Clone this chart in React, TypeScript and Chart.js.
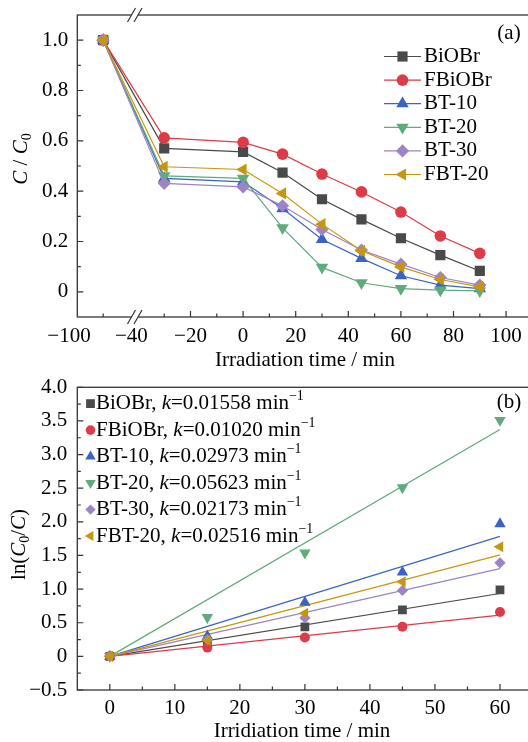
import React, { useEffect, useRef } from 'react';
import { Chart, registerables } from 'chart.js';

Chart.register(...registerables);

// ---------- data ----------
const seriesNames = ['BiOBr', 'FBiOBr', 'BT-10', 'BT-20', 'BT-30', 'FBT-20'];
const seriesColors = ['#4a4a4a', '#dd3b47', '#3a64c2', '#5fab7b', '#9c84c6', '#c8960e'];
const pointStyles = ['rect', 'circle', 'triangle', 'triangle', 'rectRot', 'triangle'];
const pointRotations = [0, 0, 0, 180, 0, 270];

// panel (a): C/C0 vs irradiation time
const timeA = [-100, -30, 0, 15, 30, 45, 60, 75, 90];
const ratioBiOBr = [1.0, 0.570, 0.556, 0.474, 0.368, 0.288, 0.213, 0.146, 0.083];
const ratioFBiOBr = [1.0, 0.612, 0.594, 0.547, 0.468, 0.397, 0.317, 0.222, 0.153];
const ratioBT10 = [1.0, 0.451, 0.437, 0.331, 0.208, 0.133, 0.064, 0.027, 0.013];
const ratioBT20 = [1.0, 0.461, 0.451, 0.254, 0.097, 0.036, 0.013, 0.007, 0.004];
const ratioBT30 = [1.0, 0.431, 0.417, 0.342, 0.248, 0.166, 0.110, 0.057, 0.027];
const ratioFBT20 = [1.0, 0.497, 0.486, 0.391, 0.269, 0.163, 0.099, 0.049, 0.020];
const seriesA = [ratioBiOBr, ratioFBiOBr, ratioBT10, ratioBT20, ratioBT30, ratioFBT20];

const xTickLabelsA = ['−100', '−40', '−20', '0', '20', '40', '60', '80', '100'];
const xTickValuesA = [-100, -40, -20, 0, 20, 40, 60, 80, 100];
const yTickValuesA = [0, 0.2, 0.4, 0.6, 0.8, 1.0];
const yTickLabelsA = ['0', '0.2', '0.4', '0.6', '0.8', '1.0'];

// panel (b): ln(C0/C) vs irradiation time
const timeB = [0, 15, 30, 45, 60];
const lnBiOBr = [0, 0.21, 0.44, 0.69, 0.99];
const lnFBiOBr = [0, 0.13, 0.28, 0.44, 0.66];
const lnBT10 = [0, 0.30, 0.80, 1.25, 1.97];
const lnBT20 = [0, 0.58, 1.54, 2.51, 3.51];
const lnBT30 = [0, 0.25, 0.57, 0.98, 1.39];
const lnFBT20 = [0, 0.24, 0.64, 1.11, 1.63];
const seriesB = [lnBiOBr, lnFBiOBr, lnBT10, lnBT20, lnBT30, lnFBT20];
const rateConstants = [0.01558, 0.0102, 0.02973, 0.05623, 0.02173, 0.02516];
const rateLabels = ['0.01558', '0.01020', '0.02973', '0.05623', '0.02173', '0.02516'];
const fitRange = [0, 60];

const xTickValuesB = [0, 10, 20, 30, 40, 50, 60];
const xTickLabelsB = ['0', '10', '20', '30', '40', '50', '60'];
const yTickValuesB = [-0.5, 0, 0.5, 1.0, 1.5, 2.0, 2.5, 3.0, 3.5, 4.0];
const yTickLabelsB = ['−0.5', '0', '0.5', '1.0', '1.5', '2.0', '2.5', '3.0', '3.5', '4.0'];

// ---------- layout / style ----------
const FONT = "'Liberation Serif', 'Times New Roman', serif";
const FS = 21;
const CW = 560;
const CH = 371;
const AXIS_COLOR = '#353535';
const radiiA = [7.2, 5.8, 7.2, 7.2, 6.6, 7.0];
const radiiB = [6.2, 5.0, 6.6, 6.6, 5.6, 6.4];
const radiiLegB = [6.2, 4.8, 6.0, 6.0, 5.2, 5.8];

// broken x axis of panel (a): the -100 point sits in a compressed left segment
const LEFT_SEG_POS = -53.2;
function xPosA(t: number): number {
  return t >= -40 ? t : LEFT_SEG_POS + (t + 100) * 0.4;
}
const xLabelPosA = [-66.2, -42.5, -20, 0, 20, 40, 60, 80, 100];

type Seg = { t: string; i?: boolean; sub?: boolean; sup?: boolean };

function segFont(s: Seg, size: number) {
  const sz = s.sub || s.sup ? size * 0.66 : size;
  return `${s.i ? 'italic ' : ''}${sz}px ${FONT}`;
}
function richWidth(ctx: CanvasRenderingContext2D, segs: Seg[], size: number) {
  let w = 0;
  for (const s of segs) {
    ctx.font = segFont(s, size);
    w += ctx.measureText(s.t).width;
  }
  return w;
}
function drawRich(ctx: CanvasRenderingContext2D, segs: Seg[], x: number, y: number, size: number, align: 'left' | 'center') {
  const w = richWidth(ctx, segs, size);
  let cx = align === 'center' ? x - w / 2 : x;
  ctx.textAlign = 'left';
  ctx.textBaseline = 'middle';
  ctx.fillStyle = '#000';
  for (const s of segs) {
    ctx.font = segFont(s, size);
    const dy = s.sub ? size * 0.3 : s.sup ? -size * 0.33 : 0;
    ctx.fillText(s.t, cx, y + dy);
    cx += ctx.measureText(s.t).width;
  }
}
function drawMarker(ctx: CanvasRenderingContext2D, style: string, rot: number, x: number, y: number, r: number, color: string) {
  ctx.save();
  ctx.translate(x, y);
  ctx.beginPath();
  if (style === 'circle') {
    ctx.arc(0, 0, r, 0, Math.PI * 2);
  } else if (style === 'rect') {
    const s = r * Math.SQRT1_2;
    ctx.rect(-s, -s, 2 * s, 2 * s);
  } else if (style === 'rectRot') {
    ctx.moveTo(0, -r);
    ctx.lineTo(r, 0);
    ctx.lineTo(0, r);
    ctx.lineTo(-r, 0);
    ctx.closePath();
  } else {
    let a = (rot * Math.PI) / 180;
    for (let k = 0; k < 3; k++) {
      const px = Math.sin(a) * r;
      const py = -Math.cos(a) * r;
      if (k === 0) ctx.moveTo(px, py);
      else ctx.lineTo(px, py);
      a += (2 * Math.PI) / 3;
    }
    ctx.closePath();
  }
  ctx.fillStyle = color;
  ctx.fill();
  ctx.restore();
}

function drawFrame(chart: any, xMajor: number[], xMinor: number[], yMajor: number[], yMinor: number[]) {
  const ctx: CanvasRenderingContext2D = chart.ctx;
  const { left, right, top, bottom } = chart.chartArea;
  const xs = chart.scales.x;
  const ys = chart.scales.y;
  ctx.save();
  ctx.strokeStyle = AXIS_COLOR;
  ctx.lineWidth = 1.3;
  ctx.strokeRect(left, top, right - left, bottom - top);
  ctx.lineWidth = 1.2;
  ctx.beginPath();
  for (const v of xMajor) {
    const px = xs.getPixelForValue(v);
    ctx.moveTo(px, bottom);
    ctx.lineTo(px, bottom - 6);
  }
  for (const v of xMinor) {
    const px = xs.getPixelForValue(v);
    ctx.moveTo(px, bottom);
    ctx.lineTo(px, bottom - 3.5);
  }
  for (const v of yMajor) {
    const py = ys.getPixelForValue(v);
    ctx.moveTo(left, py);
    ctx.lineTo(left + 6, py);
  }
  for (const v of yMinor) {
    const py = ys.getPixelForValue(v);
    ctx.moveTo(left, py);
    ctx.lineTo(left + 3.5, py);
  }
  ctx.stroke();
  ctx.restore();
}

function drawBreak(ctx: CanvasRenderingContext2D, yAxis: number) {
  const dx = 8;
  const half = 7;
  const x1 = 131.5;
  const gap = 6.5;
  const s = (x0: number, y: number) => x0 + ((yAxis - y) * dx) / (2 * half);
  ctx.save();
  ctx.fillStyle = '#fff';
  ctx.beginPath();
  ctx.moveTo(s(x1, yAxis + 3), yAxis + 3);
  ctx.lineTo(s(x1, yAxis - 3), yAxis - 3);
  ctx.lineTo(s(x1 + gap, yAxis - 3), yAxis - 3);
  ctx.lineTo(s(x1 + gap, yAxis + 3), yAxis + 3);
  ctx.closePath();
  ctx.fill();
  ctx.strokeStyle = AXIS_COLOR;
  ctx.lineWidth = 1.2;
  ctx.beginPath();
  for (const x0 of [x1, x1 + gap]) {
    ctx.moveTo(s(x0, yAxis + half), yAxis + half);
    ctx.lineTo(s(x0, yAxis - half), yAxis - half);
  }
  ctx.stroke();
  ctx.restore();
}

const panelAPlugin = {
  id: 'panelA',
  afterDraw(chart: any) {
    const ctx: CanvasRenderingContext2D = chart.ctx;
    const { left, top, bottom } = chart.chartArea;
    const xs = chart.scales.x;
    const ys = chart.scales.y;
    drawFrame(
      chart,
      [-20, 0, 20, 40, 60, 80, 100],
      [xPosA(-100), -30, -10, 10, 30, 50, 70, 90],
      yTickValuesA,
      [0.1, 0.3, 0.5, 0.7, 0.9]
    );
    drawBreak(ctx, top);
    drawBreak(ctx, bottom);
    ctx.save();
    ctx.fillStyle = '#000';
    ctx.font = `${FS}px ${FONT}`;
    ctx.textBaseline = 'middle';
    ctx.textAlign = 'center';
    xTickLabelsA.forEach((lab, i) => {
      ctx.fillText(lab, xs.getPixelForValue(xLabelPosA[i]), bottom + 19);
    });
    ctx.textAlign = 'right';
    yTickLabelsA.forEach((lab, i) => {
      ctx.fillText(lab, left - 9, ys.getPixelForValue(yTickValuesA[i]));
    });
    ctx.restore();
    drawRich(ctx, [{ t: 'Irradiation time / min' }], 305, 360, FS, 'center');
    ctx.save();
    ctx.translate(21, 159);
    ctx.rotate(-Math.PI / 2);
    drawRich(ctx, [{ t: 'C', i: true }, { t: ' / ' }, { t: 'C', i: true }, { t: '0', sub: true }], 0, 0, FS, 'center');
    ctx.restore();
    drawRich(ctx, [{ t: '(a)' }], 509, 33, FS, 'center');
    // legend
    seriesNames.forEach((name, i) => {
      const y = 56.5 + i * 23.6;
      ctx.save();
      ctx.strokeStyle = seriesColors[i];
      ctx.lineWidth = 1.2;
      ctx.beginPath();
      ctx.moveTo(384, y);
      ctx.lineTo(421, y);
      ctx.stroke();
      ctx.restore();
      drawMarker(ctx, pointStyles[i], pointRotations[i], 402.5, y, radiiA[i], seriesColors[i]);
      drawRich(ctx, [{ t: name }], 424, y, FS, 'left');
    });
  },
};

const panelBPlugin = {
  id: 'panelB',
  afterDraw(chart: any) {
    const ctx: CanvasRenderingContext2D = chart.ctx;
    const { left, bottom } = chart.chartArea;
    const xs = chart.scales.x;
    const ys = chart.scales.y;
    drawFrame(
      chart,
      xTickValuesB,
      [5, 15, 25, 35, 45, 55],
      yTickValuesB,
      [-0.25, 0.25, 0.75, 1.25, 1.75, 2.25, 2.75, 3.25, 3.75]
    );
    ctx.save();
    ctx.fillStyle = '#000';
    ctx.font = `${FS}px ${FONT}`;
    ctx.textBaseline = 'middle';
    ctx.textAlign = 'center';
    xTickLabelsB.forEach((lab, i) => {
      ctx.fillText(lab, xs.getPixelForValue(xTickValuesB[i]), bottom + 18);
    });
    ctx.textAlign = 'right';
    yTickLabelsB.forEach((lab, i) => {
      ctx.fillText(lab, left - 10, ys.getPixelForValue(yTickValuesB[i]));
    });
    ctx.restore();
    drawRich(ctx, [{ t: 'Irridiation time / min' }], 302, 360, FS, 'center');
    ctx.save();
    ctx.translate(19, 173.5);
    ctx.rotate(-Math.PI / 2);
    drawRich(
      ctx,
      [{ t: 'ln(' }, { t: 'C', i: true }, { t: '0', sub: true }, { t: '/' }, { t: 'C', i: true }, { t: ')' }],
      0,
      0,
      FS,
      'center'
    );
    ctx.restore();
    drawRich(ctx, [{ t: '(b)' }], 509, 31, FS, 'center');
    seriesNames.forEach((name, i) => {
      const y = 32.6 + i * 26.5;
      drawMarker(ctx, pointStyles[i], pointRotations[i], 90.5, y, radiiLegB[i], seriesColors[i]);
      drawRich(
        ctx,
        [
          { t: `${name}, ` },
          { t: 'k', i: true },
          { t: `=${rateLabels[i]} min` },
          { t: '−1', sup: true },
        ],
        96,
        y,
        FS,
        'left'
      );
    });
  },
};

export default function App() {
  const refA = useRef<HTMLCanvasElement>(null);
  const refB = useRef<HTMLCanvasElement>(null);

  useEffect(() => {
    if (!refA.current || !refB.current) return;
    const order = (i: number) => seriesNames.length - 1 - i;

    const chartA = new Chart(refA.current, {
      type: 'line',
      data: {
        datasets: seriesA.map((vals, i) => ({
          label: seriesNames[i],
          data: timeA.map((t, j) => ({ x: xPosA(t), y: vals[j] })),
          borderColor: seriesColors[i],
          backgroundColor: seriesColors[i],
          pointBackgroundColor: seriesColors[i],
          borderWidth: 1.2,
          pointStyle: pointStyles[i] as any,
          pointRotation: pointRotations[i],
          pointRadius: radiiA[i],
          pointBorderWidth: 0,
          tension: 0,
          order: order(i),
        })),
      },
      options: {
        responsive: false,
        animation: false,
        events: [],
        layout: { padding: { left: 77.3, top: 15, right: CW - 532.4, bottom: CH - 317 } },
        scales: {
          x: { type: 'linear', min: -63.04, max: 110, display: false },
          y: { type: 'linear', min: -0.1, max: 1.1, display: false },
        },
        plugins: { legend: { display: false }, tooltip: { enabled: false } },
      },
      plugins: [panelAPlugin],
    });

    const scatterSets = seriesB.map((vals, i) => ({
      label: seriesNames[i],
      data: timeB.map((t, j) => ({ x: t, y: vals[j] })),
      showLine: false,
      borderColor: seriesColors[i],
      backgroundColor: seriesColors[i],
      pointBackgroundColor: seriesColors[i],
      pointStyle: pointStyles[i] as any,
      pointRotation: pointRotations[i],
      pointRadius: radiiB[i],
      pointBorderWidth: 0,
      order: order(i),
    }));
    const fitSets = rateConstants.map((k, i) => ({
      label: `${seriesNames[i]} fit`,
      data: fitRange.map((t) => ({ x: t, y: k * t })),
      showLine: true,
      borderColor: seriesColors[i],
      borderWidth: 1.2,
      pointRadius: 0,
      order: 10 + order(i),
    }));

    const chartB = new Chart(refB.current, {
      type: 'scatter',
      data: { datasets: [...fitSets, ...scatterSets] as any },
      options: {
        responsive: false,
        animation: false,
        events: [],
        layout: { padding: { left: 77.3, top: 16.3, right: CW - 532.5, bottom: CH - 319 } },
        scales: {
          x: { type: 'linear', min: -5, max: 65, display: false },
          y: { type: 'linear', min: -0.5, max: 4.0, display: false },
        },
        plugins: { legend: { display: false }, tooltip: { enabled: false } },
      },
      plugins: [panelBPlugin],
    });

    return () => {
      chartA.destroy();
      chartB.destroy();
    };
  }, []);

  return (
    <div style={{ position: 'absolute', left: 0, top: 0, width: 528, height: 742, overflow: 'hidden', background: '#fff' }}>
      <canvas ref={refA} width={CW} height={CH} style={{ position: 'absolute', left: 0, top: 0, width: CW, height: CH }} />
      <canvas ref={refB} width={CW} height={CH} style={{ position: 'absolute', left: 0, top: CH, width: CW, height: CH }} />
    </div>
  );
}
